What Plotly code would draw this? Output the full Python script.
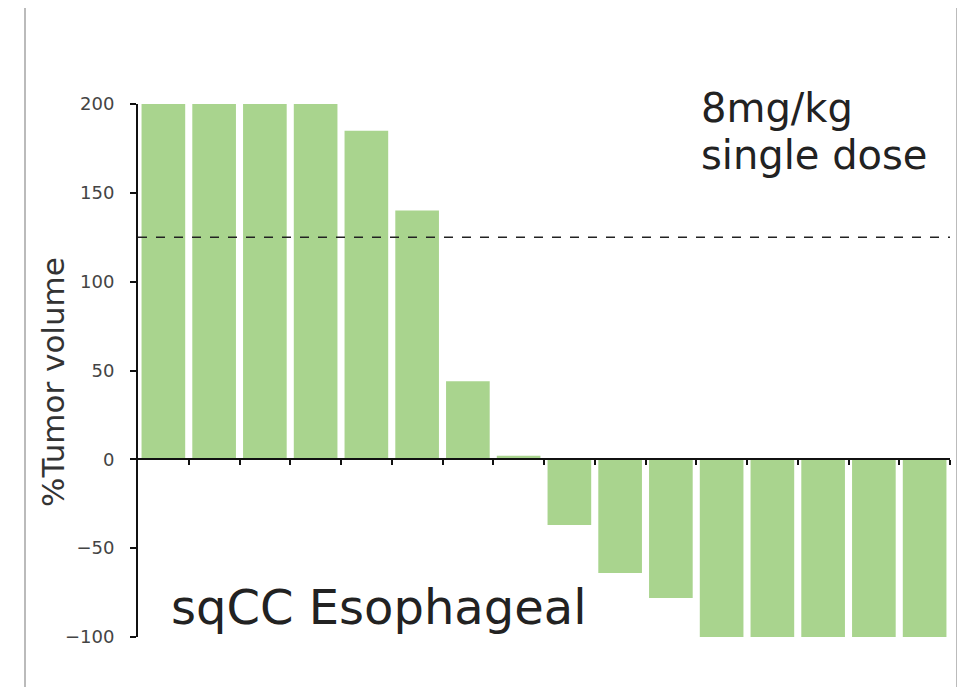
import plotly.graph_objects as go

# Data
patients = list(range(16))
tumor_change = [200, 200, 200, 200, 185, 140, 44, 2, -37, -64, -78, -100, -100, -100, -100, -100]
threshold = 125
y_ticks = [-100, -50, 0, 50, 100, 150, 200]
boundaries = [p + 0.5 for p in patients]

BAR_COLOR = "#A9D48E"
FONT = "DejaVu Sans"

fig = go.Figure()
fig.add_trace(go.Bar(
    x=patients, y=tumor_change,
    marker=dict(color=BAR_COLOR, line=dict(width=0)),
    showlegend=False, hoverinfo="y",
))
fig.add_trace(go.Scatter(
    x=[-0.5, 15.5], y=[threshold, threshold], mode="lines",
    line=dict(color="#222", width=1.6, dash="dash"),
    showlegend=False, hoverinfo="skip",
))

fig.update_layout(
    width=957, height=679,
    margin=dict(l=130, r=15, t=96, b=50),
    paper_bgcolor="white", plot_bgcolor="white",
    bargap=0.14,
    font=dict(family=FONT, color="#333"),
    xaxis=dict(
        range=[-0.5, 15.5], anchor="free", position=1/3, automargin=False,
        showline=True, linecolor="#111", linewidth=2,
        showgrid=False, zeroline=False,
        tickmode="array", tickvals=boundaries, ticktext=[""] * len(boundaries),
        ticks="outside", ticklen=5, tickwidth=2, tickcolor="#111",
    ),
    yaxis=dict(
        range=[-100, 200], tickmode="array", tickvals=y_ticks, automargin=False,
        showline=True, linecolor="#111", linewidth=2,
        showgrid=False, zeroline=False,
        ticks="outside", ticklen=6, tickwidth=2, tickcolor="#111",
        tickfont=dict(family=FONT, size=18, color="#444"),
        ticklabelstandoff=12,
    ),
    annotations=[
        dict(text="%Tumor volume", xref="paper", yref="paper", x=-0.104, y=0.4775,
             xanchor="center", yanchor="middle", textangle=-90, showarrow=False,
             font=dict(family=FONT, size=31, color="#333")),
        dict(text="8mg/kg", xref="paper", yref="paper", x=0.6909, y=0.9925,
             xanchor="left", yanchor="middle", showarrow=False,
             font=dict(family=FONT, size=40, color="#222")),
        dict(text="single dose", xref="paper", yref="paper", x=0.6909, y=0.9043,
             xanchor="left", yanchor="middle", showarrow=False,
             font=dict(family=FONT, size=40, color="#222")),
        dict(text="sqCC Esophageal", xref="paper", yref="paper", x=0.0382, y=0.0563,
             xanchor="left", yanchor="middle", showarrow=False,
             font=dict(family=FONT, size=48, color="#222")),
    ],
    shapes=[
        dict(type="line", xref="paper", yref="paper",
             x0=(17 - 130) / 812, x1=(17 - 130) / 812, y0=-50 / 533, y1=96 / 533 + 1,
             line=dict(color="#BBBBBB", width=2)),
        dict(type="line", xref="paper", yref="paper",
             x0=(949 - 130) / 812, x1=(949 - 130) / 812, y0=-50 / 533, y1=96 / 533 + 1,
             line=dict(color="#BBBBBB", width=2)),
    ],
)

fig.write_html("out.html")
